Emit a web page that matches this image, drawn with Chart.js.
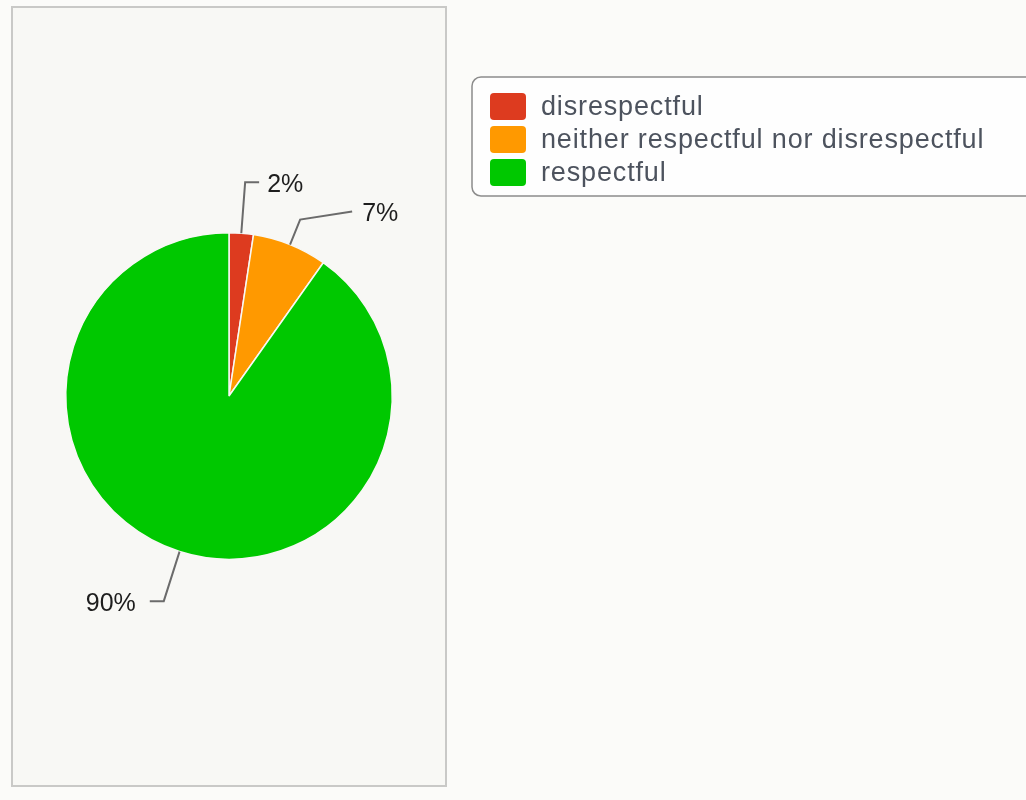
<!DOCTYPE html>
<html>
<head>
<meta charset="utf-8">
<script src="https://cdn.jsdelivr.net/npm/chart.js@4"></script>
<style>
  html, body { margin: 0; padding: 0; background: #fbfbf9; }
  #wrap { position: relative; width: 1026px; height: 800px; }
</style>
</head>
<body>
<div id="wrap"><canvas id="pie" width="1026" height="800"></canvas></div>
<script>
/* ── data ── */
const categories = ['disrespectful', 'neither respectful nor disrespectful', 'respectful'];
const shares     = [2.4, 7.4, 90.2];
const colors     = ['#dd3b1f', '#ff9900', '#00c800'];

const FONT = '"Liberation Sans", Arial, sans-serif';

/* panel behind the pie */
const panelBg = {
  id: 'panelBg',
  beforeDraw(chart) {
    const ctx = chart.ctx;
    ctx.save();
    ctx.fillStyle = '#fbfbf9';
    ctx.fillRect(0, 0, chart.width, chart.height);
    ctx.fillStyle = '#f8f8f5';
    ctx.fillRect(12, 7, 434, 779);
    ctx.strokeStyle = '#c9c9c7';
    ctx.lineWidth = 2;
    ctx.strokeRect(12, 7, 434, 779);
    ctx.restore();
  },
};

/* percent labels with leader lines */
const leaderLabels = {
  id: 'leaderLabels',
  afterDatasetsDraw(chart, args, opts) {
    const ctx   = chart.ctx;
    const meta  = chart.getDatasetMeta(0);
    const vals  = chart.data.datasets[0].data;
    const total = vals.reduce((a, v) => a + v, 0);
    ctx.save();
    meta.data.forEach((arc, i) => {
      const p   = arc.getProps(['x', 'y', 'startAngle', 'endAngle', 'outerRadius'], true);
      const mid = (p.startAngle + p.endAngle) / 2;
      const cx  = Math.cos(mid), sy = Math.sin(mid);
      const side = cx >= 0 ? 1 : -1;
      const x0 = p.x + p.outerRadius * cx,            y0 = p.y + p.outerRadius * sy;
      const x1 = p.x + (p.outerRadius + opts.ext[i]) * cx, y1 = p.y + (p.outerRadius + opts.ext[i]) * sy;
      const x2 = x1 + side * opts.tail[i],            y2 = y1 + opts.tailDy[i];
      ctx.strokeStyle = '#6b6b6b';
      ctx.lineWidth = 2;
      ctx.beginPath();
      ctx.moveTo(x0, y0);
      ctx.lineTo(x1, y1);
      ctx.lineTo(x2, y2);
      ctx.stroke();
      ctx.fillStyle = '#1e1e1e';
      ctx.font = '25px ' + FONT;
      ctx.textBaseline = 'middle';
      ctx.textAlign = side > 0 ? 'left' : 'right';
      ctx.fillText(Math.round(vals[i] / total * 100) + '%', x2 + side * opts.gap[i], y2 + 3);
    });
    ctx.restore();
  },
};

/* boxed legend on the right */
const boxLegend = {
  id: 'boxLegend',
  afterDraw(chart) {
    const ctx = chart.ctx;
    const ds  = chart.data.datasets[0];
    ctx.save();
    ctx.beginPath();
    ctx.roundRect(472, 77, 600, 119, 9);
    ctx.fillStyle = '#fefefe';
    ctx.fill();
    ctx.strokeStyle = '#8c8c8c';
    ctx.lineWidth = 1.5;
    ctx.stroke();
    chart.data.labels.forEach((lbl, i) => {
      const y = 93 + i * 33;
      ctx.beginPath();
      ctx.roundRect(490, y, 36, 27, 4);
      ctx.fillStyle = ds.backgroundColor[i];
      ctx.fill();
      ctx.fillStyle = '#4d535e';
      ctx.font = '27px ' + FONT;
      ctx.letterSpacing = '0.85px';
      ctx.textBaseline = 'middle';
      ctx.textAlign = 'left';
      ctx.fillText(lbl, 541, y + 15);
    });
    ctx.restore();
  },
};

new Chart(document.getElementById('pie'), {
  type: 'pie',
  data: {
    labels: categories,
    datasets: [{
      data           : shares,
      backgroundColor: colors,
      borderColor    : '#f8f8f5',
      borderWidth    : 1.5,
    }],
  },
  options: {
    responsive: false,
    animation : false,
    layout: { padding: { left: 65, right: 633, top: 232, bottom: 240 } },
    plugins: {
      legend : { display: false },
      tooltip: { enabled: false },
      leaderLabels: {
        ext   : [51, 27, 52],
        tail  : [14, 52, 14],
        tailDy: [0, -8, 0],
        gap   : [8, 10, 14],
      },
    },
  },
  plugins: [panelBg, leaderLabels, boxLegend],
});
</script>
</body>
</html>
